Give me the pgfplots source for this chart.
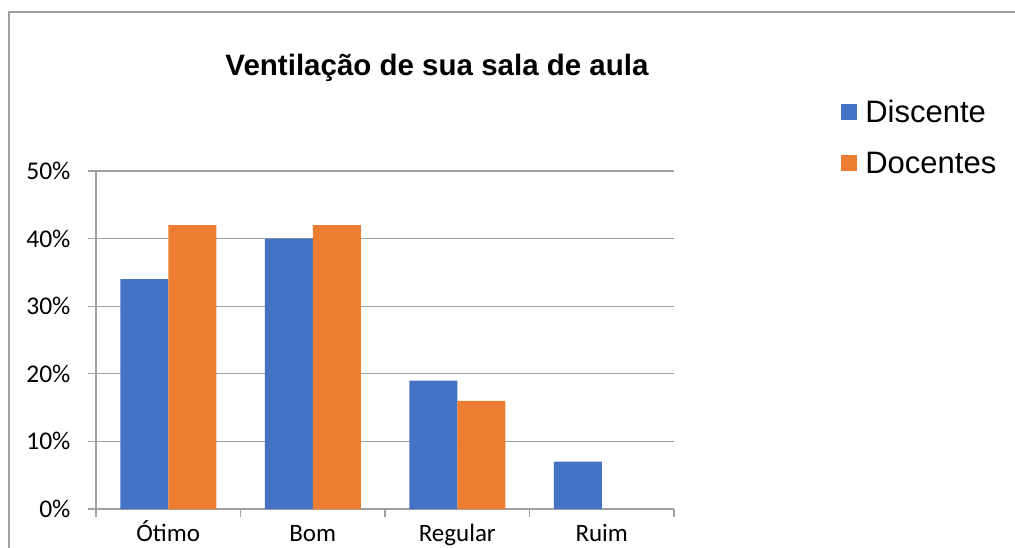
\documentclass[border=0pt]{standalone}
\usepackage{fontspec}
\setmainfont{Liberation Sans}
\newfontfamily\carlito{Carlito}
\usepackage{pgfplots}
\pgfplotsset{compat=1.18}
\definecolor{cblue}{HTML}{4472C4}
\definecolor{corange}{HTML}{ED7D31}
\definecolor{gridgray}{HTML}{A0A0A0}
\begin{document}
\begin{tikzpicture}[x=1pt,y=1pt]
\useasboundingbox (0,0) rectangle (1015,-548);
\clip (0,0) rectangle (1015,-548);
\draw[gridgray, line width=1.2pt] (9,-12) rectangle (1040,-580);
\begin{axis}[
  at={(96pt,-509pt)}, anchor=south west,
  scale only axis, width=578pt, height=338pt,
  ybar=0pt, bar width=48pt,
  xmin=-0.5, xmax=3.5, ymin=0, ymax=50,
  axis x line*=bottom, axis y line*=left,
  axis line style={gridgray, line width=1.2pt, -},
  ymajorgrids, grid style={gridgray, line width=1.2pt},
  xtick={0,1,2,3}, xticklabels={Ótimo,Bom,Regular,Ruim},
  minor xtick={-0.5,0.5,1.5,2.5,3.5},
  ytick={0,10,20,30,40,50}, yticklabels={0\%,10\%,20\%,30\%,40\%,50\%},
  tick align=outside,
  major tick length=8pt, minor tick length=8pt,
  tick style={gridgray, line width=1.2pt},
  major x tick style={draw=none},
  yticklabel style={font=\carlito\fontsize{25.5}{30}\selectfont, anchor=east, xshift=-14pt},
  xticklabel style={font=\carlito\fontsize{25}{30}\selectfont, anchor=base, yshift=-24pt},
  title={Ventilação de sua sala de aula},
  title style={at={(0.59,1)}, anchor=base, yshift=90pt, font=\bfseries\fontsize{29.5}{36}\selectfont},
  legend style={at={(1.284,1.223)}, anchor=north west, draw=none, fill=none,
    font=\fontsize{31}{36}\selectfont, row sep=24pt, column sep=6pt},
  legend cell align=left,
  legend image code/.code={\fill[#1] (0pt,-8pt) rectangle (16pt,8pt);},
]
\addplot[fill=cblue, draw=none] coordinates {(0,34) (1,40) (2,19) (3,7)};
\addplot[fill=corange, draw=none] coordinates {(0,42) (1,42) (2,16) (3,0)};
\legend{Discente,Docentes}
\end{axis}
\end{tikzpicture}
\end{document}
